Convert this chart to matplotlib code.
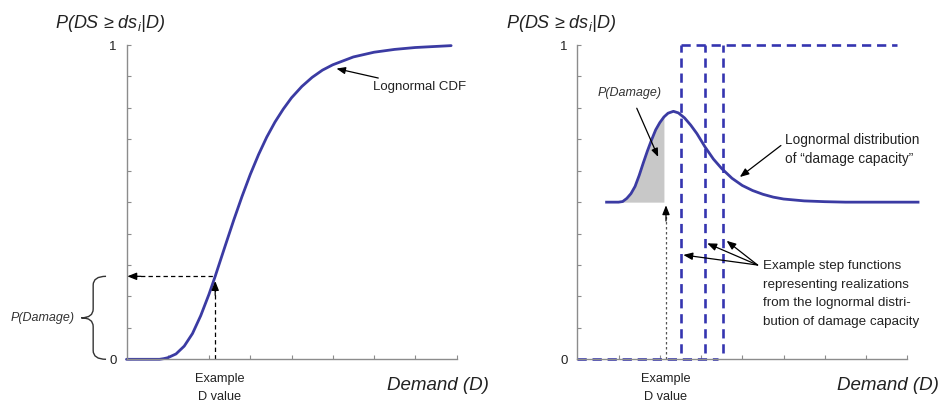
import matplotlib
matplotlib.use("Agg")
import matplotlib.pyplot as plt
import matplotlib.transforms as mtransforms
from matplotlib.path import Path
from matplotlib.patches import PathPatch

plt.rcParams['font.family'] = ['Liberation Sans', 'DejaVu Sans']
plt.rcParams['mathtext.fontset'] = 'custom'
plt.rcParams['mathtext.rm'] = 'Liberation Sans'
plt.rcParams['mathtext.it'] = 'Liberation Sans:italic'

# values (x in tick units 0..8, y probability 0..1)
cdf_x = [0, 0.8, 0.9, 1.0, 1.2, 1.4, 1.6, 1.8, 2.0, 2.15, 2.2, 2.4, 2.6, 2.8, 3.0, 3.2,
         3.4, 3.6, 3.8, 4.0, 4.25, 4.5, 4.75, 5.0, 5.5, 6.0, 6.5, 7.0, 7.87]
cdf_y = [0, 0, 0.002, 0.005, 0.017, 0.042, 0.082, 0.139, 0.207, 0.264, 0.284, 0.364,
         0.443, 0.518, 0.588, 0.651, 0.707, 0.755, 0.796, 0.832, 0.868, 0.897, 0.92,
         0.937, 0.962, 0.977, 0.986, 0.992, 0.998]

pdf_base = 0.5
pdf_x = [0.71, 1.0, 1.1, 1.2, 1.3, 1.4, 1.5, 1.6, 1.7, 1.8, 1.9, 2.0, 2.1, 2.2, 2.33,
         2.45, 2.6, 2.75, 2.9, 3.1, 3.3, 3.5, 3.75, 4.0, 4.25, 4.5, 4.75, 5.0, 5.5,
         6.0, 6.5, 8.26]
pdf_h = [0, 0, 0.002, 0.012, 0.027, 0.05, 0.085, 0.125, 0.163, 0.198, 0.23, 0.253,
         0.271, 0.283, 0.289, 0.284, 0.268, 0.245, 0.218, 0.175, 0.137, 0.107, 0.076,
         0.053, 0.037, 0.025, 0.016, 0.010, 0.004, 0.0015, 0, 0]

d_example = 2.15
p_damage = 0.264
step_x = [2.51, 3.10, 3.54]
step_end = 7.75

blue = '#3b3ba3'
dash_blue = '#3535b0'
axis_grey = '#8c8c8c'

W, H = 944, 405
fig = plt.figure(figsize=(W / 100, H / 100), dpi=100)


def make_axes(x0):
    ax = fig.add_axes([x0 / W, 1 - 359.3 / H, 330 / W, 314.3 / H])
    ax.set_xlim(0, 8)
    ax.set_ylim(0, 1)
    for s in ['top', 'right']:
        ax.spines[s].set_visible(False)
    for s in ['left', 'bottom']:
        ax.spines[s].set_color(axis_grey)
        ax.spines[s].set_linewidth(1.0)
    ax.set_xticks(range(1, 9))
    ax.set_xticklabels([])
    ax.set_yticks([i / 10 for i in range(11)])
    ax.set_yticklabels(['0'] + [''] * 9 + ['1'])
    ax.tick_params(direction='in', length=3, width=0.8, color=axis_grey,
                   labelsize=9.5, pad=7, labelcolor='#222222')
    return ax


head = dict(arrowstyle='-|>,head_length=0.55,head_width=0.22', color='black',
            lw=0.9, shrinkA=0, shrinkB=0)

# ---------------- left panel: lognormal CDF
ax1 = make_axes(126.5)
ax1.plot(cdf_x, cdf_y, color=blue, lw=2.0, solid_capstyle='round', clip_on=False)

ax1.plot([d_example, d_example], [0, p_damage - 0.02], color='black', lw=0.9,
         dashes=(3.5, 2.5))
ax1.annotate('', xy=(d_example, p_damage - 0.015), xytext=(d_example, p_damage - 0.06),
             arrowprops=head)
ax1.plot([0.15, d_example], [p_damage, p_damage], color='black', lw=0.9,
         dashes=(3.5, 2.5))
ax1.annotate('', xy=(0.02, p_damage), xytext=(0.35, p_damage), arrowprops=head)

ax1.annotate('Lognormal CDF', xy=(5.09, 0.925), xytext=(5.98, 0.865),
             fontsize=9.5, va='center', ha='left', color='#222222',
             arrowprops=dict(head, shrinkA=2))

# curly brace spanning 0..P(Damage), left of the axis
tr = mtransforms.blended_transform_factory(ax1.transAxes, ax1.transData)
bx_in, bx_mid, bx_tip = -0.062, -0.101, -0.137
mid = p_damage / 2
r = 0.028
verts = [(bx_in, p_damage), (bx_mid, p_damage), (bx_mid, p_damage - r),
         (bx_mid, mid + r), (bx_mid, mid), (bx_tip, mid),
         (bx_mid, mid), (bx_mid, mid - r),
         (bx_mid, r), (bx_mid, 0), (bx_in, 0)]
codes = [Path.MOVETO, Path.CURVE3, Path.CURVE3,
         Path.LINETO, Path.CURVE3, Path.CURVE3,
         Path.CURVE3, Path.CURVE3,
         Path.LINETO, Path.CURVE3, Path.CURVE3]
ax1.add_patch(PathPatch(Path(verts, codes), transform=tr, fill=False,
                        edgecolor='#333333', lw=1.0, clip_on=False))
ax1.text(bx_tip - 0.02, mid, 'P(Damage)', transform=tr, style='italic',
         fontsize=9, ha='right', va='center', color='#333333')

ax1.annotate('Example\nD value', xy=(d_example + 0.1, 0), xytext=(0, -10),
             textcoords='offset points', ha='center', va='top', fontsize=9.2,
             linespacing=1.65, color='#222222')

# ---------------- right panel: lognormal PDF + step functions
ax2 = make_axes(577.3)
pdf_y = [pdf_base + h for h in pdf_h]
ax2.fill_between(pdf_x, pdf_base, pdf_y, where=[x <= d_example for x in pdf_x],
                 interpolate=True, color='#c8c8c8', lw=0)
ax2.plot(pdf_x, pdf_y, color=blue, lw=2.0, clip_on=False)

for xs in step_x:
    ax2.plot([xs, xs], [0.02, 1], color=dash_blue, lw=1.9, dashes=(3.5, 2.2),
             clip_on=False)
ax2.plot([min(step_x), step_end], [1, 1], color=dash_blue, lw=1.9, dashes=(3.5, 2.2),
         clip_on=False)
ax2.plot([0, max(step_x) - 0.12], [0, 0], color=dash_blue, lw=1.9, dashes=(3.5, 2.2),
         clip_on=False)

ax2.plot([d_example, d_example], [0, pdf_base - 0.04], color='#555555', lw=0.9,
         dashes=(2, 2))
ax2.annotate('', xy=(d_example, pdf_base - 0.01), xytext=(d_example, pdf_base - 0.06),
             arrowprops=head)

ax2.annotate('P(Damage)', xy=(1.96, 0.644), xytext=(1.28, 0.847), style='italic',
             fontsize=9, ha='center', va='center', color='#333333',
             arrowprops=dict(head, shrinkA=5))
ax2.annotate('Lognormal distribution\nof \u201cdamage capacity\u201d', xy=(3.94, 0.58),
             xytext=(5.03, 0.667), fontsize=9.8, ha='left', va='center',
             linespacing=1.4, color='#222222',
             arrowprops=dict(head, shrinkA=1, relpos=(0, 0.72)))

step_txt = ('Example step functions\nrepresenting realizations\n'
            'from the lognormal distri-\nbution of damage capacity')
ax2.text(4.49, 0.208, step_txt, fontsize=9.6, ha='left', va='center',
         linespacing=1.72, color='#222222')
for tip in [(2.57, 0.332), (3.15, 0.369), (3.62, 0.377)]:
    ax2.annotate('', xy=tip, xytext=(4.37, 0.30), arrowprops=head)

ax2.annotate('Example\nD value', xy=(d_example, 0), xytext=(0, -10),
             textcoords='offset points', ha='center', va='top', fontsize=9.2,
             linespacing=1.65, color='#222222')

# titles and axis names
for cx in [110, 561]:
    fig.text(cx / W, 1 - 23 / H, 'P(DS \u2265 ds$_{i}$|D)', style='italic',
             fontsize=13, ha='center', va='center', color='#222222')
for cx in [438, 888]:
    fig.text(cx / W, 1 - 386 / H, 'Demand (D)', style='italic',
             fontsize=13.5, ha='center', va='center', color='#222222')

fig.savefig('out.png', dpi=100)
